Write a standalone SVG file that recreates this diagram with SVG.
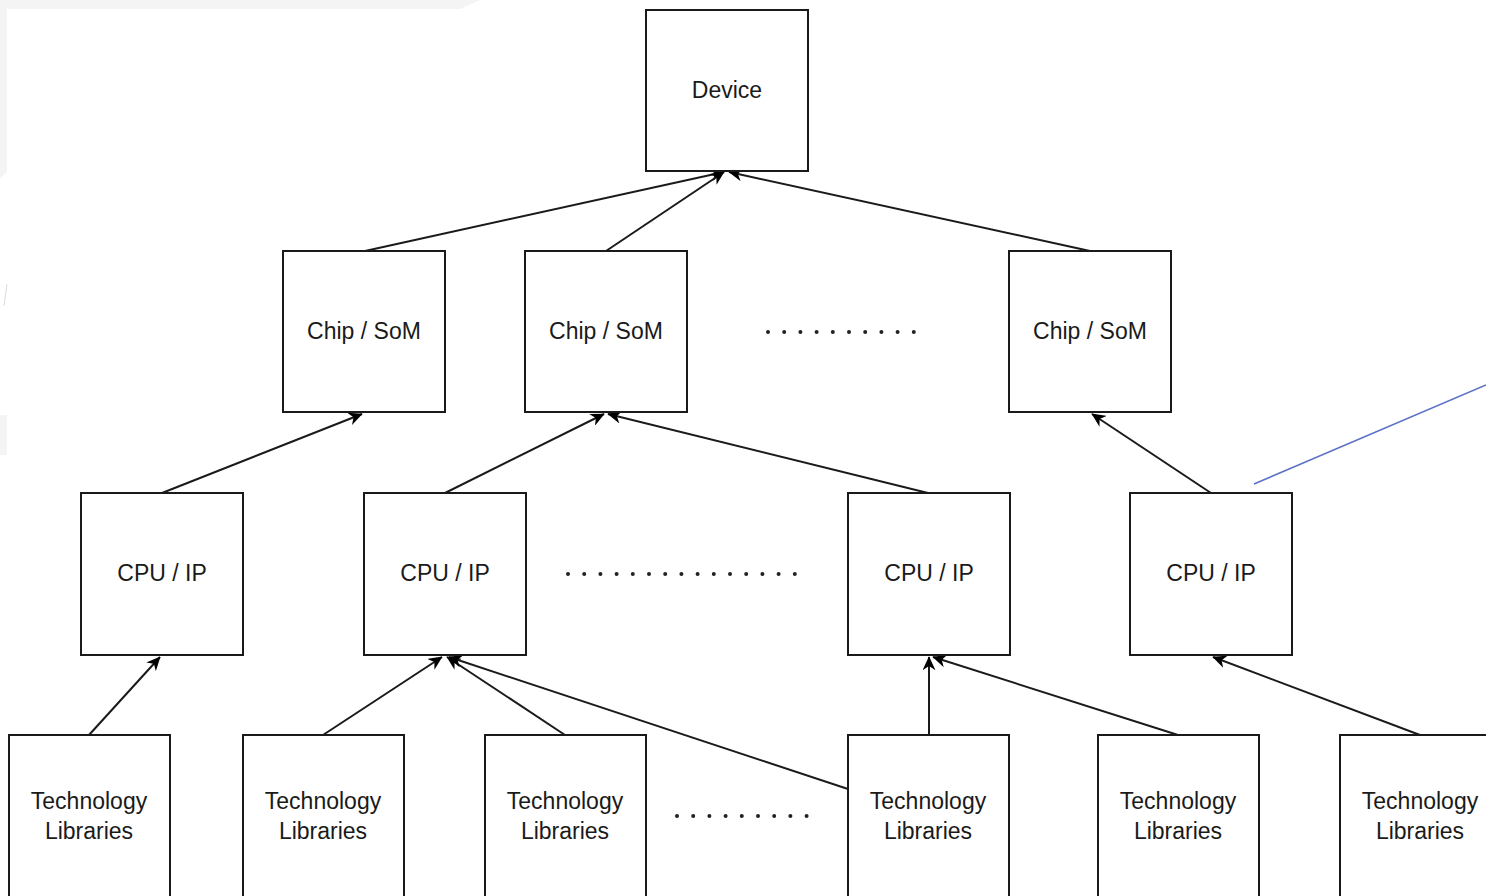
<svg xmlns="http://www.w3.org/2000/svg" width="1486" height="896" viewBox="0 0 1486 896">
<defs>
<style>
.box{fill:#fff;stroke:#1a1a1a;stroke-width:2}
.lbl{font-family:"Liberation Sans",Arial,sans-serif;font-size:23px;fill:#1a1a1a;text-anchor:middle}
.edge{fill:none;stroke:#1a1a1a;stroke-width:2}
.dots{fill:none;stroke:#222;stroke-width:4;stroke-linecap:round;stroke-dasharray:0 16.2}
</style>
<marker id="arr" viewBox="0 0 10 10" refX="9.5" refY="5" markerWidth="14" markerHeight="13" orient="auto" markerUnits="userSpaceOnUse" preserveAspectRatio="none">
<path d="M0,0 L10,5 L0,10 L3,5 z" fill="#000"/>
</marker>
</defs>
<rect width="1486" height="896" fill="#fff"/>
<g id="bg-artifacts" fill="#f4f4f4">
<polygon points="0,0 480,0 460,9 7,9 7,172 0,178"/>
<rect x="0" y="415" width="7" height="40"/>
<line x1="7" y1="284" x2="4" y2="306" stroke="#ddd" stroke-width="1"/>
</g>
<g id="connectors">
<line class="edge" x1="365" y1="251" x2="724" y2="172" marker-end="url(#arr)"/>
<line class="edge" x1="606" y1="251" x2="724" y2="172" marker-end="url(#arr)"/>
<line class="edge" x1="1090" y1="251" x2="729" y2="172" marker-end="url(#arr)"/>
<line class="edge" x1="162" y1="493" x2="362" y2="414" marker-end="url(#arr)"/>
<line class="edge" x1="445" y1="493" x2="604" y2="414" marker-end="url(#arr)"/>
<line class="edge" x1="928" y1="493" x2="608" y2="414" marker-end="url(#arr)"/>
<line class="edge" x1="1211" y1="493" x2="1092" y2="414" marker-end="url(#arr)"/>
<line class="edge" x1="89" y1="735" x2="160" y2="657" marker-end="url(#arr)"/>
<line class="edge" x1="323" y1="735" x2="442" y2="657" marker-end="url(#arr)"/>
<line class="edge" x1="565" y1="735" x2="447" y2="657" marker-end="url(#arr)"/>
<line class="edge" x1="848" y1="789" x2="449" y2="657" marker-end="url(#arr)"/>
<line class="edge" x1="929" y1="735" x2="929" y2="657" marker-end="url(#arr)"/>
<line class="edge" x1="1178" y1="735" x2="933" y2="657" marker-end="url(#arr)"/>
<line class="edge" x1="1420" y1="735" x2="1213" y2="657" marker-end="url(#arr)"/>
<line x1="1254" y1="484" x2="1486" y2="385" stroke="#5a6fc6" stroke-width="1.5"/>
</g>
<g id="ellipsis">
<line class="dots" x1="768" y1="332" x2="915" y2="332"/>
<line class="dots" x1="568" y1="574" x2="795" y2="574"/>
<line class="dots" x1="677" y1="816" x2="807" y2="816"/>
</g>
<g id="device"><rect class="box" x="646" y="10" width="162" height="161"/><text class="lbl" x="727" y="98">Device</text></g>
<g id="chip1"><rect class="box" x="283" y="251" width="162" height="161"/><text class="lbl" x="364" y="339">Chip / SoM</text></g>
<g id="chip2"><rect class="box" x="525" y="251" width="162" height="161"/><text class="lbl" x="606" y="339">Chip / SoM</text></g>
<g id="chip3"><rect class="box" x="1009" y="251" width="162" height="161"/><text class="lbl" x="1090" y="339">Chip / SoM</text></g>
<g id="cpu1"><rect class="box" x="81" y="493" width="162" height="162"/><text class="lbl" x="162" y="581">CPU / IP</text></g>
<g id="cpu2"><rect class="box" x="364" y="493" width="162" height="162"/><text class="lbl" x="445" y="581">CPU / IP</text></g>
<g id="cpu3"><rect class="box" x="848" y="493" width="162" height="162"/><text class="lbl" x="929" y="581">CPU / IP</text></g>
<g id="cpu4"><rect class="box" x="1130" y="493" width="162" height="162"/><text class="lbl" x="1211" y="581">CPU / IP</text></g>
<g id="tech1"><rect class="box" x="9" y="735" width="161" height="170"/><text class="lbl" x="89" y="809">Technology</text><text class="lbl" x="89" y="839">Libraries</text></g>
<g id="tech2"><rect class="box" x="243" y="735" width="161" height="170"/><text class="lbl" x="323" y="809">Technology</text><text class="lbl" x="323" y="839">Libraries</text></g>
<g id="tech3"><rect class="box" x="485" y="735" width="161" height="170"/><text class="lbl" x="565" y="809">Technology</text><text class="lbl" x="565" y="839">Libraries</text></g>
<g id="tech4"><rect class="box" x="848" y="735" width="161" height="170"/><text class="lbl" x="928" y="809">Technology</text><text class="lbl" x="928" y="839">Libraries</text></g>
<g id="tech5"><rect class="box" x="1098" y="735" width="161" height="170"/><text class="lbl" x="1178" y="809">Technology</text><text class="lbl" x="1178" y="839">Libraries</text></g>
<g id="tech6"><rect class="box" x="1340" y="735" width="161" height="170"/><text class="lbl" x="1420" y="809">Technology</text><text class="lbl" x="1420" y="839">Libraries</text></g>
</svg>
